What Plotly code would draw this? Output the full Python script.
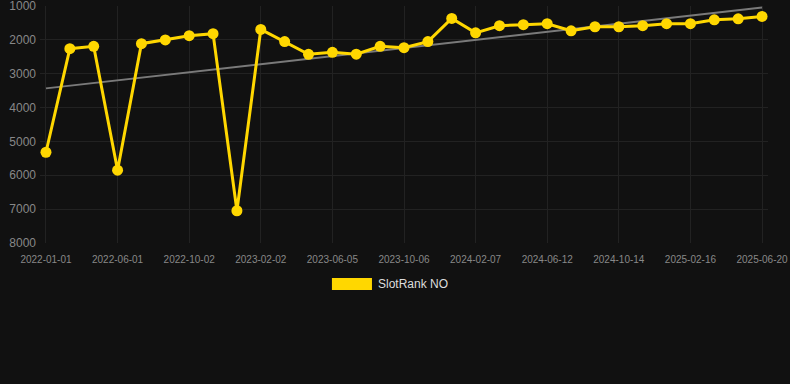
import plotly.graph_objects as go
import numpy as np

dates = [
    "2022-01-01", "2022-02-20", "2022-04-11", "2022-06-01", "2022-07-12", "2022-08-22",
    "2022-10-02", "2022-11-12", "2022-12-23", "2023-02-02", "2023-03-15", "2023-04-25",
    "2023-06-05", "2023-07-16", "2023-08-26", "2023-10-06", "2023-11-16", "2023-12-27",
    "2024-02-07", "2024-03-19", "2024-05-01", "2024-06-12", "2024-07-23", "2024-09-02",
    "2024-10-14", "2024-11-24", "2025-01-05", "2025-02-16", "2025-03-29", "2025-05-09",
    "2025-06-20",
]
rank_no = [
    5320, 2260, 2190, 5850, 2110, 2000, 1875, 1815, 7050, 1690, 2050, 2425,
    2365, 2420, 2190, 2230, 2050, 1365, 1790, 1580, 1550, 1520, 1730, 1610,
    1610, 1580, 1520, 1520, 1405, 1375, 1305,
]
tick_labels = dates[::3]
y_ticks = [1000, 2000, 3000, 4000, 5000, 6000, 7000, 8000]
series_name = "SlotRank NO"

idx = np.arange(len(rank_no))
slope, intercept = np.polyfit(idx, rank_no, 1)
trend = slope * idx + intercept

fig = go.Figure()
fig.add_trace(go.Scatter(
    x=dates, y=trend, mode="lines",
    line=dict(color="#7a7a7a", width=2),
    showlegend=False, hoverinfo="skip",
))
fig.add_trace(go.Scatter(
    x=dates, y=rank_no, mode="lines+markers", name=series_name,
    line=dict(color="#FFD700", width=3),
    marker=dict(color="#FFD700", size=11),
    showlegend=False,
))

fig.add_shape(type="rect", xref="paper", yref="paper",
              x0=0.401, x1=0.456, y0=-0.198, y1=-0.1477,
              fillcolor="#FFD700", line=dict(width=0))
fig.add_annotation(text=series_name, xref="paper", yref="paper",
                   x=0.4615, y=-0.173, xanchor="left", yanchor="middle",
                   showarrow=False, font=dict(size=12, color="#dddddd"))

fig.update_layout(
    width=790, height=384,
    margin=dict(l=40, r=22, t=6, b=141),
    paper_bgcolor="#111111", plot_bgcolor="#111111",
    font=dict(family="Liberation Sans, Arial, sans-serif", color="#888888"),
    xaxis=dict(
        type="category", range=[-0.25, 30.25],
        tickmode="array", tickvals=tick_labels, ticktext=tick_labels,
        tickfont=dict(size=10, color="#888888"),
        showgrid=True, gridcolor="#222222", gridwidth=1,
        zeroline=False, showline=False, ticks="",
        ticklabelstandoff=9, automargin=False, ticklabeloverflow="allow",
    ),
    yaxis=dict(
        range=[8003, 997], tickvals=y_ticks,
        tickfont=dict(size=12, color="#888888"),
        showgrid=True, gridcolor="#222222", gridwidth=1,
        zeroline=False, showline=False, ticks="",
        ticklabelstandoff=3, automargin=False, ticklabeloverflow="allow",
    ),
)

fig.write_html(
    "out.html",
    config={"displayModeBar": False},
    post_script="document.body.style.margin='0';document.body.style.background='#111111';",
)
